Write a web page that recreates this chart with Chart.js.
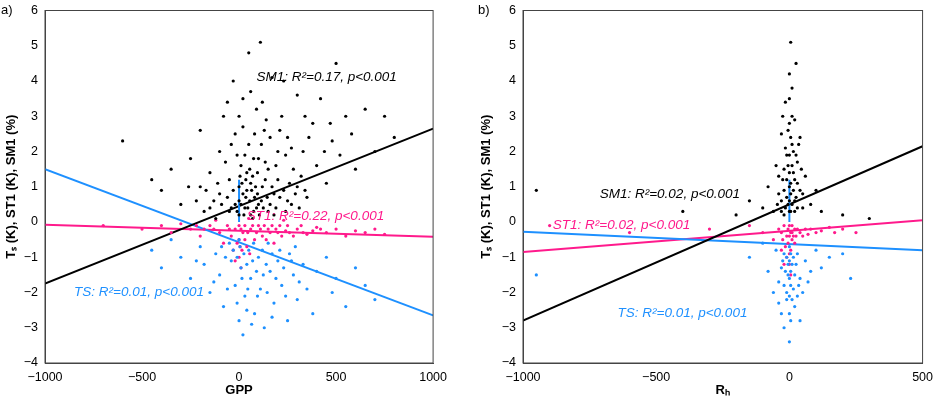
<!DOCTYPE html>
<html><head><meta charset="utf-8">
<script src="https://cdn.jsdelivr.net/npm/chart.js@4"></script>
<style>body{margin:0;background:#fff;width:936px;height:402px;position:relative;overflow:hidden;font-family:"Liberation Sans",Arial,sans-serif}
.c{position:absolute;top:0;height:402px}
.lbl{position:absolute;font-size:13px;top:2px}</style></head><body>
<div class="c" style="left:0;width:450px"><canvas id="a"></canvas></div>
<div class="c" style="left:475px;width:461px"><canvas id="b"></canvas></div>
<div class="lbl" style="left:1px">a)</div><div class="lbl" style="left:478px">b)</div>
<script>
const aSM1=[[-600,2.3],[-450,1.2],[-400,0.9],[-350,1.5],[-300,0.5],[-250,1.8],[-200,1.0],[-200,2.6],[-150,0.4],[-150,1.4],[-100,0.8],[-100,2.0],[-80,3.0],[-50,0.3],[-50,1.2],[-30,4.0],[-20,2.5],[0,0.2],[0,0.6],[0,1.0],[10,1.6],[20,3.5],[30,0.4],[40,0.9],[50,2.2],[50,4.8],[60,0.2],[70,1.3],[80,0.7],[90,3.2],[100,0.5],[100,1.8],[110,5.1],[120,1.0],[130,2.6],[150,0.3],[150,1.5],[170,4.1],[180,0.8],[200,2.0],[200,1.2],[220,3.0],[250,0.6],[250,2.4],[280,1.5],[300,3.6],[300,1.0],[330,2.0],[350,0.7],[380,2.8],[400,1.6],[420,3.5],[450,1.1],[480,2.3],[500,4.5],[520,1.9],[550,3.0],[580,2.5],[600,1.5],[650,3.2],[700,2.0],[750,3.0],[800,2.4],[-120,0.1],[70,0.1],[180,0.2],[30,1.9],[-70,1.7],[140,2.9],[20,0.8],[60,1.1],[-20,0.5],[90,0.4],[40,1.4],
[-10,0.3],[10,0.5],[25,0.2],[35,0.7],[45,0.4],[55,0.6],[65,0.9],[75,0.3],[85,1.0],[95,0.8],[105,0.2],[115,0.6],[125,0.4],[135,1.2],[145,0.7],[160,0.5],[170,1.0],[190,0.4],[210,0.7],[230,0.9],[240,0.3],[260,1.1],[270,0.5],[290,0.8],[310,0.4],[320,1.3],[340,0.9],[-30,0.9],[-40,0.4],[-60,0.7],[-90,0.5],[-110,1.1],[-130,0.6],[-170,0.9],[-180,0.3],[-220,0.6],[-260,1.0],[5,1.3],[15,1.1],[35,1.2],[55,1.5],[75,1.8],[95,1.4],[115,2.2],[135,1.7],[160,2.4],[190,1.6],[210,2.6],[240,1.9],[270,2.1],[360,2.4],[-40,2.2],[-10,1.9],[20,2.7],[80,2.5],[0,3.0],[60,3.7],[120,3.4],[-60,3.4],[230,4.0],[340,3.0],[440,2.0],[470,2.8]];
const aST1=[[-700,-0.1],[-500,-0.2],[-400,-0.1],[-350,-0.3],[-300,-0.05],[-250,-0.2],[-200,-0.4],[-150,-0.1],[-100,-0.3],[-80,-0.6],[-50,-0.2],[-30,-0.8],[0,-0.1],[0,-0.5],[0,-1.0],[10,-1.3],[20,-0.3],[40,-0.7],[60,-0.2],[80,-0.5],[100,-0.1],[120,-0.4],[150,-0.2],[180,-0.6],[200,-0.3],[250,-0.1],[280,-0.4],[300,-0.2],[350,-0.35],[400,-0.15],[450,-0.3],[500,-0.2],[550,-0.4],[600,-0.25],[650,-0.3],[700,-0.2],[750,-0.35],[50,0.1],[-120,0.05],[230,0.05],
[-60,-0.1],[-40,-0.4],[-20,-0.2],[-10,-0.6],[10,-0.2],[15,-0.8],[30,-0.1],[30,-0.5],[45,-0.3],[55,-0.9],[70,-0.1],[90,-0.3],[110,-0.2],[130,-0.1],[140,-0.5],[160,-0.3],[170,-0.1],[190,-0.2],[210,-0.1],[220,-0.4],[240,-0.25],[260,-0.3],[320,-0.1],[330,-0.3],[380,-0.25],[420,-0.2],[-20,-1.1],[5,-0.7],[-180,-0.2],[-220,-0.1],[-130,-0.2]];
const aTS=[[-450,-0.8],[-400,-1.3],[-350,-0.5],[-300,-1.0],[-250,-1.6],[-200,-0.7],[-180,-1.2],[-150,-2.0],[-120,-0.9],[-100,-1.5],[-80,-2.4],[-50,-0.6],[-40,-1.1],[-20,-1.8],[0,-2.8],[0,-0.5],[10,-1.3],[20,-3.2],[30,-2.1],[50,-0.8],[60,-1.6],[80,-2.6],[100,-1.0],[110,-1.9],[130,-3.0],[150,-0.6],[160,-1.4],[180,-2.3],[200,-1.1],[220,-1.8],[250,-2.8],[260,-0.9],[280,-1.5],[300,-2.2],[330,-1.2],[350,-1.9],[380,-2.6],[400,-1.4],[450,-1.0],[480,-2.0],[500,-1.6],[550,-2.4],[600,-1.3],[650,-1.8],[700,-2.2],
[-90,-0.7],[-70,-1.0],[-30,-0.8],[-10,-1.0],[5,-0.7],[15,-1.6],[25,-0.9],[40,-1.2],[45,-1.9],[70,-1.1],[75,-0.6],[90,-1.4],[95,-2.1],[120,-0.8],[125,-1.5],[140,-1.2],[145,-2.0],[170,-0.9],[190,-1.6],[210,-0.8],[230,-1.3],[240,-2.1],[270,-1.1],[290,-0.7],[310,-1.7],[-60,-1.9],[-130,-1.7],[-220,-1.1],[-10,-2.3],[65,-2.9],[170,-2.7],[40,-2.5]];
const bSM1=[[-950,0.9],[-400,0.3],[-200,0.2],[-150,0.6],[-100,0.4],[-80,1.0],[-60,0.3],[-50,1.6],[-40,0.8],[-30,2.5],[-25,1.2],[-20,0.2],[-15,3.4],[-10,1.9],[-5,0.5],[0,4.2],[0,2.8],[0,1.0],[5,5.1],[5,0.3],[10,2.2],[10,3.8],[15,1.4],[20,0.6],[20,2.9],[25,4.5],[30,1.7],[40,0.9],[40,2.4],[50,0.4],[60,1.3],[80,0.5],[100,0.9],[120,0.3],[200,0.2],[300,0.1],
[-30,0.3],[-30,0.6],[-20,0.9],[-20,1.5],[-15,0.4],[-15,2.1],[-10,0.7],[-10,1.2],[-5,1.6],[-5,2.6],[0,0.3],[0,0.6],[0,1.4],[0,1.9],[0,3.5],[5,0.8],[5,1.1],[5,2.4],[10,0.5],[10,1.6],[10,3.0],[15,0.9],[15,2.0],[20,1.2],[20,0.3],[25,0.7],[25,1.9],[30,0.4],[30,1.1],[35,2.2],[-40,1.3],[-25,3.0],[-45,0.5],[45,1.5],[50,0.8]];
const bST1=[[-900,-0.1],[-600,-0.3],[-300,-0.2],[-150,-0.1],[-100,-0.3],[-60,-0.5],[-40,-0.2],[-30,-0.8],[-20,-1.2],[-10,-0.4],[0,-0.1],[0,-0.9],[5,-1.5],[10,-0.3],[20,-0.6],[30,-0.2],[50,-0.4],[80,-0.2],[100,-0.3],[150,-0.15],[200,-0.2],[250,-0.3],
[-30,-0.3],[-25,-0.5],[-20,-0.1],[-15,-0.7],[-10,-1.0],[-5,-0.2],[-5,-0.6],[0,-0.4],[0,-1.2],[5,-0.3],[5,-0.8],[10,-0.1],[10,-0.5],[15,-0.4],[20,-0.2],[25,-0.4],[40,-0.3],[60,-0.2],[70,-0.35],[120,-0.25],[170,-0.3]];
const bTS=[[-950,-1.5],[-150,-1.0],[-100,-0.6],[-80,-1.4],[-60,-2.0],[-50,-0.8],[-40,-1.7],[-30,-2.6],[-25,-1.1],[-20,-3.0],[-10,-2.2],[-5,-1.5],[0,-0.7],[0,-3.4],[5,-2.8],[10,-1.2],[15,-1.9],[20,-2.4],[30,-0.9],[40,-1.6],[50,-2.0],[60,-1.1],[80,-1.4],[100,-0.8],[150,-1.0],[200,-0.9],
[-30,-1.3],[-20,-0.9],[-20,-1.8],[-15,-1.4],[-10,-1.0],[-10,-2.0],[-5,-1.2],[0,-1.1],[0,-1.6],[0,-2.1],[0,-2.6],[5,-0.9],[5,-1.4],[5,-1.8],[10,-2.2],[15,-1.0],[20,-1.5],[25,-1.2],[30,-2.1],[35,-1.8],[-40,-2.3],[40,-2.8],[70,-1.7],[120,-1.3],[230,-1.6]];
const aFit={SM1:[[-1000,-1.75],[1000,2.65]],TS:[[-1000,1.5],[1000,-2.65]],ST1:[[-1000,-0.08],[1000,-0.42]]};
const bFit={SM1:[[-1000,-2.8],[500,2.15]],TS:[[-1000,-0.28],[500,-0.8]],ST1:[[-1000,-0.85],[500,0.05]]};
const zeroMark=[[0,0],[0,1.2]];
const aNotes=[["SM1: R²=0.17, p<0.001",90,4.1,"#000"],["ST1: R²=0.22, p<0.001",40,0.15,"#ff1a8c"],["TS: R²=0.01, p<0.001",-850,-2.0,"#1e90ff"]];
const bNotes=[["SM1: R²=0.02, p<0.001",-712,0.8,"#000"],["ST1: R²=0.02, p<0.001",-888,-0.1,"#ff1a8c"],["TS: R²=0.01, p<0.001",-645,-2.6,"#1e90ff"]];
const K="#000",P="#ff1a8c",B="#1e90ff";
const pt=a=>a.map(([x,y])=>({x,y}));
function sc(d,c){return {type:'scatter',data:pt(d),backgroundColor:c,borderColor:c,pointRadius:1.6,pointBorderWidth:0};}
function ln(d,c,w){return {type:'line',data:pt(d),borderColor:c,borderWidth:w||2,pointRadius:0,fill:false};}
const fmt=v=>v<0?'\u2212'+Math.abs(v):String(v);
const notes={id:'notes',afterDatasetsDraw(ch,a,o){const c=ch.ctx;c.save();c.font='italic 13.5px "Liberation Sans",Arial';c.textBaseline='middle';
 for(const [t,x,y,col] of o.list){c.fillStyle=col;c.fillText(t,ch.scales.x.getPixelForValue(x),ch.scales.y.getPixelForValue(y));}c.restore();}};
function make(id,S,Sm,T,fit,xmin,xmax,xtitle,ylw,list){
 new Chart(document.getElementById(id),{data:{datasets:[sc(S,K),sc(T,B),sc(Sm,P),ln(zeroMark,B,2),ln(fit.SM1,K),ln(fit.TS,B),ln(fit.ST1,P)]},
 options:{responsive:true,maintainAspectRatio:false,animation:false,layout:{padding:{top:3,right:12}},
 plugins:{legend:{display:false},tooltip:{enabled:false},notes:{list}},
 scales:{x:{type:'linear',min:xmin,max:xmax,ticks:{stepSize:500,color:'#000',font:{size:12.5},maxRotation:0,callback:fmt},grid:{display:false,tickLength:4},border:{color:'#444'},
   title:{display:true,text:xtitle,color:'#000',font:{size:13,weight:'bold'},padding:{top:0}},afterFit(s){s.height=39;}},
  y:{min:-4,max:6,ticks:{stepSize:1,color:'#000',font:{size:12.5},callback:fmt},grid:{display:false,tickLength:4},border:{color:'#444'},
   title:{display:true,text:'Tₛ (K), ST1 (K), SM1 (%)',color:'#000',font:{size:13,weight:'bold'},padding:{bottom:2}},afterFit(s){s.width=ylw;}}}},
 plugins:[notes,{id:'box',afterDraw(ch){const a=ch.chartArea,c=ch.ctx;c.save();c.strokeStyle='#444';c.lineWidth=1;c.strokeRect(a.left,a.top,a.right-a.left,a.bottom-a.top);c.restore();}}]});}
make('a',aSM1,aST1,aTS,aFit,-1000,1000,'GPP',45,aNotes);
make('b',bSM1,bST1,bTS,bFit,-1000,500,'Rₕ',48,bNotes);
</script></body></html>
